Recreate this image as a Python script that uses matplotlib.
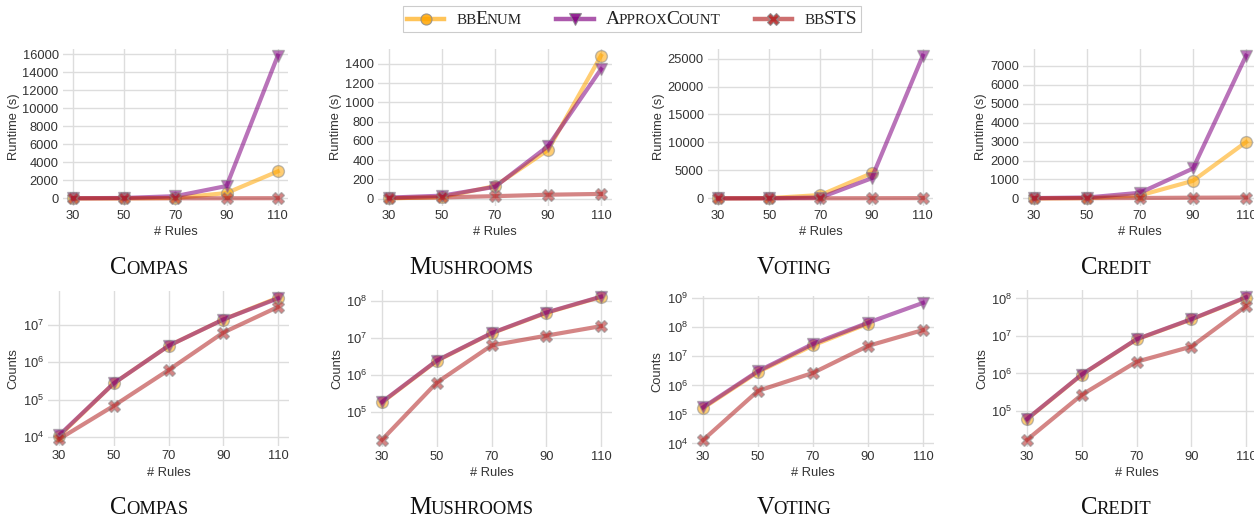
import numpy as np
import matplotlib
matplotlib.use("Agg")
import matplotlib.pyplot as plt
from matplotlib.ticker import MultipleLocator, LogLocator, NullLocator
from matplotlib.offsetbox import TextArea, HPacker, DrawingArea, AnchoredOffsetbox, AnnotationBbox
from matplotlib.lines import Line2D

nan = np.nan
rules = [30, 50, 70, 90, 110]
datasets = ["Compas", "Mushrooms", "Voting", "Credit"]
methods = ["bbEnum", "ApproxCount", "bbSTS"]

# Runtime (s)
compas_rt_bbenum = [5, 10, 50, 600, 3000]
compas_rt_approx = [20, 50, 250, 1380, 15850]
compas_rt_bbsts = [5, 8, 12, 18, 25]
mush_rt_bbenum = [2, 15, 130, 505, 1485]
mush_rt_approx = [10, 30, 122, 545, 1345]
mush_rt_bbsts = [5, 12, 25, 40, 48]
voting_rt_bbenum = [5, 50, 600, 4500, nan]
voting_rt_approx = [10, 30, 150, 3600, 25500]
voting_rt_bbsts = [5, 10, 20, 35, 50]
credit_rt_bbenum = [5, 20, 160, 930, 2970]
credit_rt_approx = [20, 50, 300, 1580, 7520]
credit_rt_bbsts = [5, 15, 25, 40, 50]

# Counts
compas_ct_bbenum = [1.05e4, 2.7e5, 2.7e6, 1.36e7, 5.2e7]
compas_ct_approx = [1.1e4, 2.7e5, 2.7e6, 1.36e7, 5.0e7]
compas_ct_bbsts = [8.8e3, 6.8e4, 6.1e5, 6.1e6, 2.95e7]
mush_ct_bbenum = [1.8e5, 2.4e6, 1.34e7, 4.8e7, 1.3e8]
mush_ct_approx = [1.85e5, 2.45e6, 1.36e7, 4.9e7, 1.32e8]
mush_ct_bbsts = [1.75e4, 6.2e5, 6.3e6, 1.16e7, 2.1e7]
voting_ct_bbenum = [1.65e5, 2.9e6, 2.4e7, 1.35e8, nan]
voting_ct_approx = [1.75e5, 3.1e6, 2.7e7, 1.45e8, 7.0e8]
voting_ct_bbsts = [1.3e4, 6.5e5, 2.7e6, 2.3e7, 8.1e7]
credit_ct_bbenum = [6.0e4, 9.3e5, 8.1e6, 2.76e7, 1.06e8]
credit_ct_approx = [6.1e4, 9.4e5, 8.2e6, 2.8e7, 1.08e8]
credit_ct_bbsts = [1.7e4, 2.7e5, 2.06e6, 5.2e6, 6.25e7]

runtime = {
    "Compas": [compas_rt_bbenum, compas_rt_approx, compas_rt_bbsts],
    "Mushrooms": [mush_rt_bbenum, mush_rt_approx, mush_rt_bbsts],
    "Voting": [voting_rt_bbenum, voting_rt_approx, voting_rt_bbsts],
    "Credit": [credit_rt_bbenum, credit_rt_approx, credit_rt_bbsts],
}
counts = {
    "Compas": [compas_ct_bbenum, compas_ct_approx, compas_ct_bbsts],
    "Mushrooms": [mush_ct_bbenum, mush_ct_approx, mush_ct_bbsts],
    "Voting": [voting_ct_bbenum, voting_ct_approx, voting_ct_bbsts],
    "Credit": [credit_ct_bbenum, credit_ct_approx, credit_ct_bbsts],
}
runtime_step = {"Compas": 2000, "Mushrooms": 200, "Voting": 5000, "Credit": 1000}

colors = ["#FFA500", "#800080", "#B22222"]
markers = ["o", "v", "X"]
ALPHA = 0.55
EDGE = "#8c8c8c"

plt.rcParams["font.family"] = ["Liberation Sans", "DejaVu Sans"]
plt.rcParams["mathtext.default"] = "regular"
TXT = "#333333"
FS = 9.3

W, H = 1254, 521
fig = plt.figure(figsize=(W / 100, H / 100), dpi=100)
fig.patch.set_facecolor("white")


def rect(l, t, r, b):
    return [l / W, 1 - b / H, (r - l) / W, (b - t) / H]


top_rects = [(62.8, 48.6, 288, 205.5), (378.4, 48.6, 611.6, 205.5),
             (708, 48.6, 933, 205.5), (1023.4, 48.6, 1256.6, 205.5)]
bot_rects = [(48, 290.6, 289, 446.2), (371, 289.5, 612, 447),
             (692, 296, 934, 447), (1016, 290.1, 1257, 447)]


def style_axes(ax):
    ax.set_facecolor("white")
    for s in ax.spines.values():
        s.set_visible(False)
    ax.grid(True, which="major", color="#dddddd", linewidth=1.0)
    ax.set_axisbelow(True)
    ax.tick_params(length=0, labelsize=FS, labelcolor=TXT, pad=3.0)
    ax.set_xticks(rules)
    ax.set_xlabel("# Rules", fontsize=FS, color=TXT, labelpad=3)


def draw_lines(ax, series):
    for vals, c, m in zip(series, colors, markers):
        ax.plot(rules, vals, color=c, alpha=ALPHA, linewidth=3.0,
                marker=m, markersize=8.5, markeredgecolor=EDGE,
                markeredgewidth=1.0, markerfacecolor=c, zorder=3)


for i, name in enumerate(datasets):
    ax = fig.add_axes(rect(*top_rects[i]))
    style_axes(ax)
    draw_lines(ax, runtime[name])
    ax.yaxis.set_major_locator(MultipleLocator(runtime_step[name]))
    ax.set_ylabel("Runtime (s)", fontsize=FS, color=TXT, labelpad=2)

    ax2 = fig.add_axes(rect(*bot_rects[i]))
    style_axes(ax2)
    ax2.set_yscale("log")
    draw_lines(ax2, counts[name])
    ax2.yaxis.set_major_locator(LogLocator(base=10, numticks=12))
    ax2.yaxis.set_minor_locator(NullLocator())
    ax2.set_ylabel("Counts", fontsize=FS, color=TXT, labelpad=2)


def smallcaps_box(word, big, small, family="Liberation Serif", color="#111111", sep=-0.6):
    parts = []
    buf = ""
    cur = None
    for ch in word:
        kind = "big" if ch.isupper() else "small"
        if cur is None or kind == cur:
            buf += ch
        else:
            parts.append((cur, buf))
            buf = ch
        cur = kind
    parts.append((cur, buf))
    children = []
    for kind, s in parts:
        size = big if kind == "big" else small
        children.append(TextArea(s.upper(), textprops=dict(
            fontsize=size, family=family, color=color)))
    return HPacker(children=children, align="baseline", pad=0, sep=sep)


title_x = [149, 471, 794, 1116]
for i, name in enumerate(datasets):
    for yb in (H - 279, H - 519):
        box = smallcaps_box(name, 17.8, 13.3)
        ab = AnnotationBbox(box, (title_x[i], yb), xycoords="figure pixels",
                            box_alignment=(0.5, 0), frameon=False, pad=0)
        fig.add_artist(ab)

# legend
items = []
for lab, c, m in zip(methods, colors, markers):
    da = DrawingArea(27, 10, 0, 0)
    da.add_artist(Line2D([0, 27], [5, 5], color=c, alpha=ALPHA + 0.1, linewidth=3.2))
    da.add_artist(Line2D([13.5], [5], marker=m, markersize=8, color=c,
                         markerfacecolor=c, markeredgecolor=EDGE,
                         markeredgewidth=0.8, alpha=0.85, linestyle="none"))
    txt = smallcaps_box(lab, 14.0, 10.8, color="#222222", sep=-1.0)
    items.append(HPacker(children=[da, txt], align="center", pad=0, sep=9))
legbox = HPacker(children=items, align="center", pad=0, sep=25)
anch = AnchoredOffsetbox(loc="upper center", child=legbox, pad=0.3, borderpad=0.25,
                         frameon=True, bbox_to_anchor=(632 / W, 1.0 - 3 / H),
                         bbox_transform=fig.transFigure)
anch.patch.set_edgecolor("#cccccc")
anch.patch.set_linewidth(0.8)
anch.patch.set_boxstyle("square", pad=0)
fig.add_artist(anch)

fig.savefig("out.png", dpi=100, facecolor="white")
